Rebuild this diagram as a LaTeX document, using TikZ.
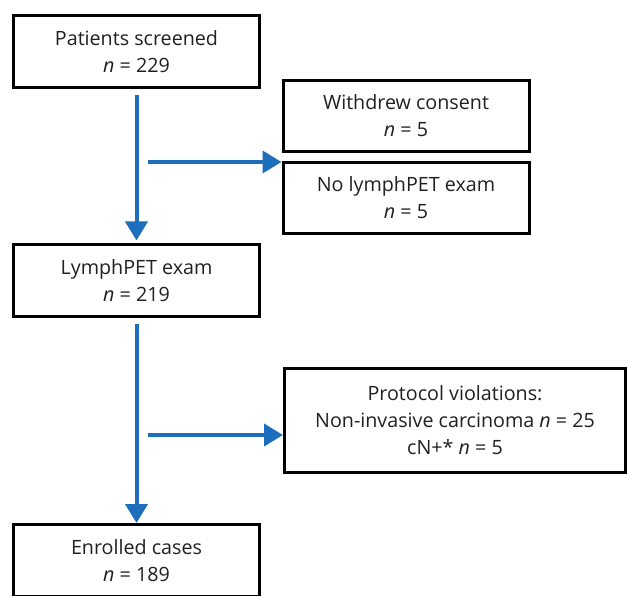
\documentclass[tikz,border=0pt]{standalone}
\usepackage{fontspec}
\setmainfont{Open Sans}
\usetikzlibrary{arrows.meta}
\definecolor{flowblue}{RGB}{30,110,190}
\definecolor{boxtext}{RGB}{35,31,32}

\begin{document}
\begin{tikzpicture}[x=1pt,y=-1pt,>={Triangle[length=19pt,width=22pt]},line width=3pt,font=\fontsize{19.7}{27}\selectfont]
  \tikzstyle{every node}=[draw=black,align=center,text=boxtext,inner sep=0pt]
  \tikzstyle{mainbox}=[minimum width=246pt,minimum height=72pt]
  \tikzstyle{sidebox}=[minimum width=246pt,minimum height=71pt]
  \tikzstyle{flow}=[->,draw=flowblue,line width=4pt]
  \useasboundingbox (0,0) rectangle (627,596);
  \node [mainbox] (screened) at (136.5,51.5) {Patients screened\\\textit{n} = 229};
  \node [sidebox] (withdrew) at (406,116) {Withdrew consent\\\textit{n} = 5};
  \node [sidebox] (nolymph) at (406,198) {No lymphPET exam\\\textit{n} = 5};
  \node [mainbox] (lymph) at (136.5,281) {LymphPET exam\\\textit{n} = 219};
  \node [minimum width=341pt,minimum height=104pt] (protocol) at (455,420.5)
    {Protocol violations:\\Non-invasive carcinoma \textit{n} = 25\\cN+* \textit{n} = 5};
  \node [mainbox] (enrolled) at (136.5,560.5) {Enrolled cases\\\textit{n} = 189};
  \coordinate (split1) at (148,162);
  \coordinate (split2) at (148,435);
  \draw [flow,shorten <=6pt,shorten >=3pt] (screened) -- (lymph);
  \draw [flow] (split1) -- (split1 -| nolymph.west);
  \draw [flow,shorten <=6pt] (lymph) -- (enrolled);
  \draw [flow] (split2) -- (split2 -| protocol.west);
\end{tikzpicture}
\end{document}
